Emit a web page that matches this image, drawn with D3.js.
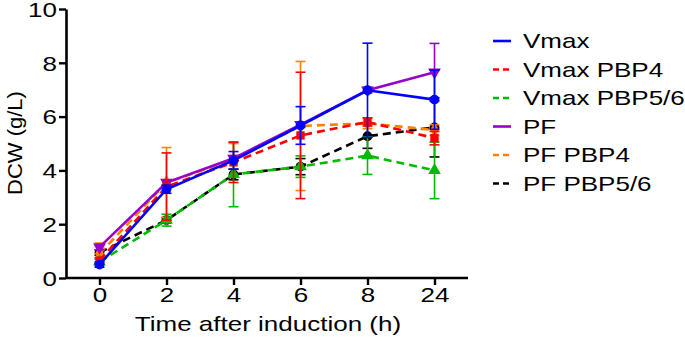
<!DOCTYPE html>
<html><head><meta charset="utf-8">
<script src="https://cdn.jsdelivr.net/npm/d3@7"></script>
<style>body{margin:0;background:#fff}svg{display:block}text{font-family:Arial,"Liberation Sans",sans-serif;fill:#000}</style>
</head><body><svg id="c" width="685" height="348"></svg>
<script>
const categories = ["0","2","4","6","8","24"];
const yTicks = [0,2,4,6,8,10];
const seriesNames = ["Vmax","Vmax PBP4","Vmax PBP5/6","PF","PF PBP4","PF PBP5/6"];
const seriesColors = ["#0000ff","#ff0000","#00bb00","#9900cc","#ff8000","#000000"];
const seriesDashed = [false,true,true,false,true,true];
const seriesMarkers = ["circle","square","triangle","triangleDown","diamond","circle"];
const vmax        = [0.50,3.30,4.37,5.67,6.98,6.63];
const vmaxErr     = [0.10,0.15,0.33,0.70,1.75,1.10];
const vmaxPBP4    = [0.65,3.40,4.30,5.30,5.80,5.20];
const vmaxPBP4Err = [0.10,1.25,0.75,2.35,0.15,0.25];
const vmaxPBP56   = [0.60,2.15,3.85,4.14,4.55,4.00];
const vmaxPBP56Err= [0.10,0.22,1.20,0.40,0.70,1.05];
const pf          = [1.15,3.55,4.45,5.70,6.98,7.65];
const pfErr       = [0.10,0.10,0.10,0.10,0.10,1.07];
const pfPBP4      = [0.90,3.55,4.40,5.65,5.75,5.50];
const pfPBP4Err   = [0.40,1.30,0.60,2.40,0.20,0.20];
const pfPBP56     = [0.95,2.15,3.85,4.14,5.27,5.60];
const pfPBP56Err  = [0.10,0.10,0.20,0.30,0.45,1.10];
const values = [vmax,vmaxPBP4,vmaxPBP56,pf,pfPBP4,pfPBP56];
const errors = [vmaxErr,vmaxPBP4Err,vmaxPBP56Err,pfErr,pfPBP4Err,pfPBP56Err];

const SX = 1.3, FS = 20;
const svg = d3.select("#c");
const x = d3.scalePoint().domain(categories).range([66,468]).padding(0.5);
const y = d3.scaleLinear().domain([0,10]).range([278,9]);

const order = [5,4,3,2,1,0];
order.forEach(i=>{
  const g = svg.append("g");
  const data = categories.map((c,k)=>({c,v:values[i][k],e:errors[i][k]}));
  data.forEach(d=>{
    const cx = x(d.c), y1 = y(d.v+d.e), y0 = y(d.v-d.e);
    g.append("line").attr("x1",cx).attr("x2",cx).attr("y1",y1).attr("y2",y0).attr("stroke",seriesColors[i]).attr("stroke-width",1.6);
    [y1,y0].forEach(yy=>g.append("line").attr("x1",cx-5).attr("x2",cx+5).attr("y1",yy).attr("y2",yy).attr("stroke",seriesColors[i]).attr("stroke-width",1.6));
  });
  g.append("path").datum(data)
    .attr("d",d3.line().x(d=>x(d.c)).y(d=>y(d.v)))
    .attr("fill","none").attr("stroke",seriesColors[i]).attr("stroke-width",2.6)
    .attr("stroke-dasharray",seriesDashed[i]?"8,5":null);
  const symMap = {circle:d3.symbolCircle,square:d3.symbolSquare,triangle:d3.symbolTriangle,triangleDown:d3.symbolTriangle,diamond:d3.symbolDiamond};
  data.forEach(d=>{
    g.append("path").attr("d",d3.symbol().type(symMap[seriesMarkers[i]]).size(seriesMarkers[i]==="circle"?75:70)())
      .attr("transform",`translate(${x(d.c)},${y(d.v)})`+(seriesMarkers[i]==="triangleDown"?" rotate(180)":""))
      .attr("fill",seriesColors[i]);
  });
});

const ax = svg.append("g").attr("transform","translate(0,278)")
  .call(d3.axisBottom(x).tickSize(7).tickSizeOuter(0));
ax.select(".domain").attr("d","M66,0H468");
const ay = svg.append("g").attr("transform","translate(66,0)")
  .call(d3.axisLeft(y).tickValues(yTicks).tickFormat(d3.format("d")).tickSize(7).tickSizeOuter(0));
[ax,ay].forEach(a=>{
  a.selectAll(".domain").attr("stroke","#000").attr("stroke-width",2.6);
  a.selectAll(".tick line").attr("stroke","#000").attr("stroke-width",2.4);
  a.selectAll("text").attr("font-size",FS).attr("font-family","Arial, Liberation Sans, sans-serif").attr("fill","#000");
});
ax.selectAll(".tick text").attr("y",10).attr("dy","0.71em").attr("transform",`scale(${SX},1)`);
ay.selectAll(".tick text").attr("x",-9/SX).attr("dy","0.36em").attr("transform",`scale(${SX},1)`);

svg.append("text").attr("transform",`translate(268,331) scale(${SX},1)`).attr("text-anchor","middle").attr("font-size",FS).text("Time after induction (h)");
svg.append("text").attr("transform",`translate(22,143) rotate(-90) scale(1.1,1)`).attr("text-anchor","middle").attr("font-size",FS).text("DCW (g/L)");

const lg = svg.append("g");
seriesNames.forEach((n,i)=>{
  const ly = 41 + i*28.5;
  lg.append("line").attr("x1",493).attr("x2",511).attr("y1",ly).attr("y2",ly)
    .attr("stroke",seriesColors[i]).attr("stroke-width",2.6).attr("stroke-dasharray",seriesDashed[i]?"6,4":null);
  lg.append("text").attr("transform",`translate(523,${ly}) scale(${SX},1)`).attr("dy","0.36em").attr("font-size",FS).text(n);
});
</script></body></html>
